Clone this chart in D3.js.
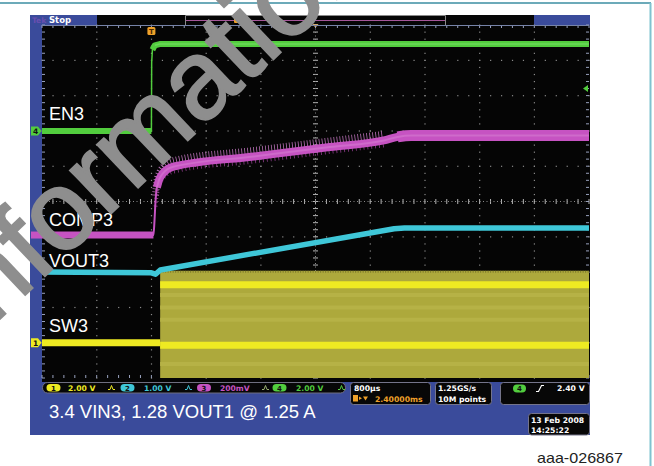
<!DOCTYPE html>
<html><head><meta charset="utf-8">
<script src="https://cdn.jsdelivr.net/npm/d3@7"></script>
<style>html,body{margin:0;padding:0;background:#fff;overflow:hidden}</style>
</head><body>
<svg id="c" width="654" height="466"></svg>
<script>
// ---------- data (time in ms relative to trigger, values in volts) ----------
const timeDomainMs = [-1.6, 6.4];
const divDomain = [-5, 5];
const channelNames = ["SW3", "VOUT3", "COMP3", "EN3"];
const channelVoltsPerDiv = [2.0, 1.0, 0.2, 2.0];
const channelOffsetDiv = [-4.0, -2.0, -0.95, 2.0];
const channelScaleLabels = ["2.00 V", "1.00 V", "200mV", "2.00 V"];

const en3 = [[-1.6, 0], [0.0, 0], [0.004, 3.9], [0.015, 4.6], [0.05, 4.85], [0.12, 4.92], [6.4, 4.92]];
const comp3 = [[-1.6, 0], [0.03, 0], [0.045, 0.08], [0.06, 0.19], [0.08, 0.27], [0.12, 0.32], [0.17, 0.35],
               [0.32, 0.387], [1.5, 0.445], [2.61, 0.499], [3.4, 0.536], [3.6, 0.556], [3.8, 0.564], [6.4, 0.564]];
const vout3 = [[-1.6, 0], [0.0, -0.02], [0.06, -0.06], [0.13, 0.06], [3.55, 1.23], [3.7, 1.246], [6.4, 1.246]];
const sw3Low = [[-1.6, 0], [0.128, 0]];
const sw3Envelope = [[0.128, 4.08, -2.4], [6.4, 4.08, -2.4]];
const sw3BrightLevels = [3.29, -0.15];

const horizontalScale = "800\u00b5s";
const triggerDelay = "2.40000ms";
const sampleRate = "1.25GS/s";
const recordLength = "10M points";
const triggerLevel = "2.40 V";
const dateLines = ["13 Feb  2008", "14:25:22"];
const caption = "3.4 VIN3, 1.28 VOUT1 @ 1.25 A";
const figureId = "aaa-026867";
const watermark = "information";

// ---------- styles ----------
const col = {sw: "#eeea22", swBand: "#ada93c", vout: "#3fc7d8", comp: "#c653c2", compLight: "#d783d4",
             en: "#52cd3e", blue: "#3a4b9b", teal: "#3b8ea2", orange: "#efa12a"};
const chColors = [col.sw, col.vout, col.comp, col.en];

const svg = d3.select("#c");
const X0 = 42, X1 = 589, Y0 = 25, Y1 = 378;
const x = d3.scaleLinear().domain(timeDomainMs).range([X0, X1]);
const yd = d3.scaleLinear().domain(divDomain).range([Y1, Y0]);
const yCh = i => v => yd(channelOffsetDiv[i] + v / channelVoltsPerDiv[i]);

svg.append("rect").attr("width", 654).attr("height", 466).attr("fill", "#fff");
svg.append("line").attr("x1", 0).attr("x2", 651).attr("y1", 3).attr("y2", 3).attr("stroke", col.teal).attr("stroke-width", 1.5);
svg.append("line").attr("x1", 650.5).attr("x2", 650.5).attr("y1", 3).attr("y2", 466).attr("stroke", "#7fc3d0").attr("stroke-width", 2);

// scope screen
svg.append("rect").attr("x", 30).attr("y", 15).attr("width", 560).attr("height", 420).attr("fill", col.blue);
svg.append("rect").attr("x", 42).attr("y", 25).attr("width", 548).attr("height", 357).attr("fill", "#050505");
// header
svg.append("rect").attr("x", 97).attr("y", 15).attr("width", 437).attr("height", 10).attr("fill", "#060606");
svg.append("text").attr("x", 32).attr("y", 23).text("Tek").attr("font-family", "DejaVu Sans").attr("font-weight", "bold").attr("font-size", 7.5).attr("fill", "#6a4fb0");
svg.append("text").attr("x", 49).attr("y", 23).text("Stop").attr("font-family", "DejaVu Sans").attr("font-weight", "bold").attr("font-size", 8.5).attr("fill", "#fff");
svg.append("path").attr("d", "M185.5,25V15.5H445.5V25").attr("fill", "none").attr("stroke", "#8a8a8a");
svg.append("line").attr("x1", 186).attr("x2", 445).attr("y1", 20.5).attr("y2", 20.5).attr("stroke", "#a6579a").attr("stroke-width", 1);
svg.append("rect").attr("x", 234).attr("y", 17).attr("width", 5).attr("height", 6).attr("rx", 1).attr("fill", col.orange);
svg.append("path").attr("d", `M${x(2.4) - 3},24L${x(2.4) + 3},24L${x(2.4)},28Z`).attr("fill", col.orange);

// ---------- graticule ----------
const grid = svg.append("g");
const divT = 0.8, minorT = 0.16;
const majorTimes = d3.range(0, 11).map(i => timeDomainMs[0] + i * divT);
const minorTimes = d3.range(0, 51).map(i => timeDomainMs[0] + i * minorT);
const minorDivs = d3.range(0, 51).map(i => divDomain[0] + i * 0.2);
majorTimes.slice(1, 10).forEach((t, i) => {
  if (i === 4) return;
  minorDivs.forEach(d => grid.append("rect").attr("x", x(t) - 0.5).attr("y", yd(d) - 0.5).attr("width", 1.2).attr("height", 1.2).attr("fill", "#8a8a8a"));
});
d3.range(-4, 5).forEach(d => {
  if (d === 0) return;
  minorTimes.forEach(t => grid.append("rect").attr("x", x(t) - 0.5).attr("y", yd(d) - 0.5).attr("width", 1.2).attr("height", 1.2).attr("fill", "#8a8a8a"));
});
const cx = x(2.4), cy = yd(0);
minorDivs.forEach(d => grid.append("line").attr("x1", cx - 2.5).attr("x2", cx + 2.5).attr("y1", yd(d)).attr("y2", yd(d)).attr("stroke", "#b5b5b5").attr("stroke-width", 1));
minorTimes.forEach(t => grid.append("line").attr("x1", x(t)).attr("x2", x(t)).attr("y1", cy - 2.5).attr("y2", cy + 2.5).attr("stroke", "#b5b5b5").attr("stroke-width", 1));
grid.append("line").attr("x1", cx).attr("x2", cx).attr("y1", Y0).attr("y2", Y1).attr("stroke", "#8a8a8a").attr("stroke-dasharray", "1,2.5");
grid.append("line").attr("x1", X0).attr("x2", X1).attr("y1", cy).attr("y2", cy).attr("stroke", "#8a8a8a").attr("stroke-dasharray", "1,2.5");
minorTimes.forEach(t => {
  grid.append("line").attr("x1", x(t)).attr("x2", x(t)).attr("y1", Y0).attr("y2", Y0 + 3).attr("stroke", "#9aa3bf");
  grid.append("line").attr("x1", x(t)).attr("x2", x(t)).attr("y1", Y1 - 3).attr("y2", Y1).attr("stroke", "#9aa3bf");
});
minorDivs.forEach(d => {
  grid.append("line").attr("x1", X0).attr("x2", X0 + 3).attr("y1", yd(d)).attr("y2", yd(d)).attr("stroke", "#9aa3bf");
  grid.append("line").attr("x1", X1 - 3).attr("x2", X1).attr("y1", yd(d)).attr("y2", yd(d)).attr("stroke", "#9aa3bf");
});
grid.append("line").attr("x1", X0).attr("x2", X1).attr("y1", Y0 + 0.5).attr("y2", Y0 + 0.5).attr("stroke", "#7683a8");

// ---------- traces ----------
svg.append("clipPath").attr("id", "plot").append("rect").attr("x", X0).attr("y", Y0 + 1).attr("width", X1 - X0).attr("height", Y1 - Y0 - 1);
const tr = svg.append("g").attr("clip-path", "url(#plot)");

// SW3 band
const ySw = yCh(0);
tr.append("path").datum(sw3Envelope)
  .attr("d", d3.area().x(d => x(d[0])).y0(d => ySw(d[2])).y1(d => ySw(d[1])))
  .attr("fill", col.swBand);
tr.append("path").datum(sw3Envelope)
  .attr("d", d3.line().x(d => x(d[0])).y(d => ySw(d[1]) + 1))
  .attr("stroke", "#7d7a2c").attr("stroke-width", 2).attr("stroke-dasharray", "1,1.5").attr("fill", "none");
[2.7, 2.0, 1.3, -1.2].forEach(v => tr.append("path").datum(sw3Envelope)
  .attr("d", d3.line().x(d => x(d[0])).y(() => ySw(v)))
  .attr("stroke", "#b6b246").attr("stroke-width", 4).attr("fill", "none"));
sw3BrightLevels.forEach(v => tr.append("path").datum(sw3Envelope)
  .attr("d", d3.line().x(d => x(d[0])).y(() => ySw(v)))
  .attr("stroke", col.sw).attr("stroke-width", 7).attr("fill", "none"));
tr.append("path").datum(sw3Low)
  .attr("d", d3.line().x(d => x(d[0])).y(d => ySw(d[1])))
  .attr("stroke", col.sw).attr("stroke-width", 7).attr("fill", "none");

// VOUT3
const yV = yCh(1);
tr.append("path").datum(vout3)
  .attr("d", d3.line().x(d => x(d[0])).y(d => yV(d[1])))
  .attr("stroke", col.vout).attr("stroke-width", 5.5).attr("fill", "none").attr("stroke-linejoin", "round");

// COMP3
const yC = yCh(2);
const compLine = d3.line().x(d => x(d[0])).y(d => yC(d[1])).curve(d3.curveMonotoneX);
const compRamp = comp3.filter(d => d[0] >= 0.06 && d[0] <= 3.45);
tr.append("path").datum(compRamp).attr("d", compLine).attr("transform", "translate(0,-6)")
  .attr("stroke", col.compLight).attr("stroke-width", 7).attr("stroke-dasharray", "0.8,2.2").attr("fill", "none").attr("opacity", 0.85);
tr.append("path").datum(compRamp).attr("d", compLine).attr("transform", "translate(0,5)")
  .attr("stroke", col.comp).attr("stroke-width", 4).attr("stroke-dasharray", "0.8,3.1").attr("fill", "none").attr("opacity", 0.7);
tr.append("path").datum(comp3).attr("d", compLine)
  .attr("stroke", col.comp).attr("stroke-width", 2).attr("fill", "none");
tr.append("path").datum(comp3.filter(d => d[0] <= 0.03)).attr("d", compLine)
  .attr("stroke", col.comp).attr("stroke-width", 7).attr("fill", "none");
tr.append("path").datum(comp3.filter(d => d[0] >= 0.08)).attr("d", compLine)
  .attr("stroke", col.comp).attr("stroke-width", 8).attr("fill", "none");
tr.append("path").datum(comp3.filter(d => d[0] >= 3.5)).attr("d", compLine)
  .attr("stroke", col.comp).attr("stroke-width", 11).attr("fill", "none");
tr.append("path").datum(comp3.filter(d => d[0] >= 0.08)).attr("d", compLine)
  .attr("stroke", col.compLight).attr("stroke-width", 2).attr("fill", "none").attr("opacity", 0.5);

// EN3
const yE = yCh(3);
const enLine = d3.line().x(d => x(d[0])).y(d => yE(d[1]));
tr.append("path").datum(en3).attr("d", enLine)
  .attr("stroke", col.en).attr("stroke-width", 1.5).attr("fill", "none");
tr.append("path").datum(en3.filter(d => d[0] <= 0)).attr("d", enLine)
  .attr("stroke", col.en).attr("stroke-width", 6).attr("fill", "none");
tr.append("path").datum(en3.filter(d => d[0] >= 0.015)).attr("d", enLine)
  .attr("stroke", col.en).attr("stroke-width", 6).attr("fill", "none").attr("stroke-linejoin", "round");
tr.append("path").datum(en3.filter(d => d[0] >= 0.05)).attr("d", enLine)
  .attr("stroke", "#7be06a").attr("stroke-width", 1.5).attr("fill", "none").attr("opacity", 0.6);

// trigger marker
const tx = x(0);
svg.append("rect").attr("x", tx - 4).attr("y", 27).attr("width", 8).attr("height", 8).attr("rx", 1.5).attr("fill", col.orange);
svg.append("text").attr("x", tx).attr("y", 34).attr("text-anchor", "middle").text("T").attr("font-family", "DejaVu Sans").attr("font-weight", "bold").attr("font-size", 7).attr("fill", "#4a2a00");
svg.append("path").attr("d", `M${X1 - 6},${yE(2.4)}L${X1 - 1},${yE(2.4) - 3.5}L${X1 - 1},${yE(2.4) + 3.5}Z`).attr("fill", col.en);

// channel ground markers
function marker(i, label) {
  const yy = yCh(i)(0);
  svg.append("path").attr("d", `M31,${yy - 4.5}H38L41.5,${yy}L38,${yy + 4.5}H31Z`).attr("fill", chColors[i]);
  svg.append("text").attr("x", 35.5).attr("y", yy + 3).attr("text-anchor", "middle").text(label)
    .attr("font-family", "DejaVu Sans").attr("font-weight", "bold").attr("font-size", 7.5).attr("fill", "#111");
}
marker(0, "1");
marker(3, "4");
svg.append("rect").attr("x", 31).attr("y", yC(0) - 3.5).attr("width", 11).attr("height", 7).attr("fill", col.comp);

// trace labels
const labelY = [332, 267, 226, 120];
channelNames.forEach((n, i) => svg.append("text").attr("x", 49).attr("y", labelY[i]).text(n)
  .attr("font-family", "Liberation Sans, Arial").attr("font-size", 18).attr("fill", "#fff"));

// ---------- status row ----------
const font = "DejaVu Sans";
svg.append("rect").attr("x", 42.5).attr("y", 382.5).attr("width", 303).attr("height", 10.5).attr("rx", 5).attr("fill", "#070707").attr("stroke", "#6f6f80");
const pillX = [46.5, 120.5, 197, 272.5];
const textX = [68, 144, 220, 296];
const iconX = [108, 185, 262, 338];
channelScaleLabels.forEach((s, i) => {
  svg.append("rect").attr("x", pillX[i]).attr("y", 384).attr("width", 14).attr("height", 7.5).attr("rx", 3.75).attr("fill", chColors[i]);
  svg.append("text").attr("x", pillX[i] + 7).attr("y", 390.5).attr("text-anchor", "middle").text(String(i + 1))
    .attr("font-family", font).attr("font-weight", "bold").attr("font-size", 7).attr("fill", "#111");
  svg.append("text").attr("x", textX[i]).attr("y", 390.8).text(s).attr("font-family", font).attr("font-weight", "bold")
    .attr("font-size", 7.6).attr("fill", chColors[i]);
  svg.append("path").attr("d", `M${iconX[i]},389.5h2l1.5,-4l1.5,4h2`).attr("fill", "none").attr("stroke", i === 2 ? "#9ab070" : chColors[i]).attr("stroke-width", 1);
});
function box(x0, y0, w, h) {
  svg.append("rect").attr("x", x0 + 0.5).attr("y", y0 + 0.5).attr("width", w).attr("height", h).attr("rx", 3).attr("fill", "#070707").attr("stroke", "#74748a");
}
box(350, 382, 80, 22);
box(435, 382, 56, 22);
box(500, 382, 89, 22);
box(528, 413, 61, 21.5);
const t = (xx, yy, s, fill) => svg.append("text").attr("x", xx).attr("y", yy).text(s).attr("font-family", font)
  .attr("font-weight", "bold").attr("font-size", 7.7).attr("fill", fill);
t(354, 391, horizontalScale, "#fff");
svg.append("rect").attr("x", 353).attr("y", 395).attr("width", 5).attr("height", 6.5).attr("fill", col.orange);
svg.append("path").attr("d", "M359,396.5l3,1.8l-3,1.8Z M363,396.5h5l-2.5,4Z").attr("fill", col.orange);
t(375, 402, triggerDelay, col.orange);
t(438, 391, sampleRate, "#fff");
t(438, 402, recordLength, "#fff");
svg.append("rect").attr("x", 513).attr("y", 384.5).attr("width", 13).attr("height", 8).attr("rx", 4).attr("fill", col.en);
svg.append("text").attr("x", 519.5).attr("y", 391).attr("text-anchor", "middle").text("4").attr("font-family", font).attr("font-weight", "bold").attr("font-size", 7).attr("fill", "#111");
svg.append("path").attr("d", "M536,391.5h2.5l3,-6h2.5").attr("fill", "none").attr("stroke", "#fff").attr("stroke-width", 1.2);
t(557, 391, triggerLevel, "#fff");
t(531, 423, dateLines[0], "#fff");
t(531, 432.5, dateLines[1], "#fff");

// caption
svg.append("text").attr("x", 49).attr("y", 418).text(caption).attr("font-family", "Liberation Sans, Arial")
  .attr("font-size", 18.5).attr("fill", "#fff");
svg.append("text").attr("x", 537).attr("y", 463).text(figureId).attr("font-family", "Liberation Sans, Arial")
  .attr("font-size", 14.5).attr("textLength", 86).attr("lengthAdjust", "spacingAndGlyphs").attr("fill", "#222");

// watermark
const wmSize = 112;
const wm = svg.append("text").text(watermark).attr("font-family", "Liberation Sans, Arial")
  .attr("font-size", wmSize).attr("fill", "#8e8e8e").attr("stroke", "#8e8e8e").attr("stroke-width", 2.2);
const node = wm.node();
const pre = node.getSubStringLength(0, 3), ow = node.getSubStringLength(3, 1);
wm.attr("x", -(pre + ow / 2)).attr("y", 0.27 * wmSize).attr("transform", "translate(62,218) rotate(-43.5)");
</script>
</body></html>
